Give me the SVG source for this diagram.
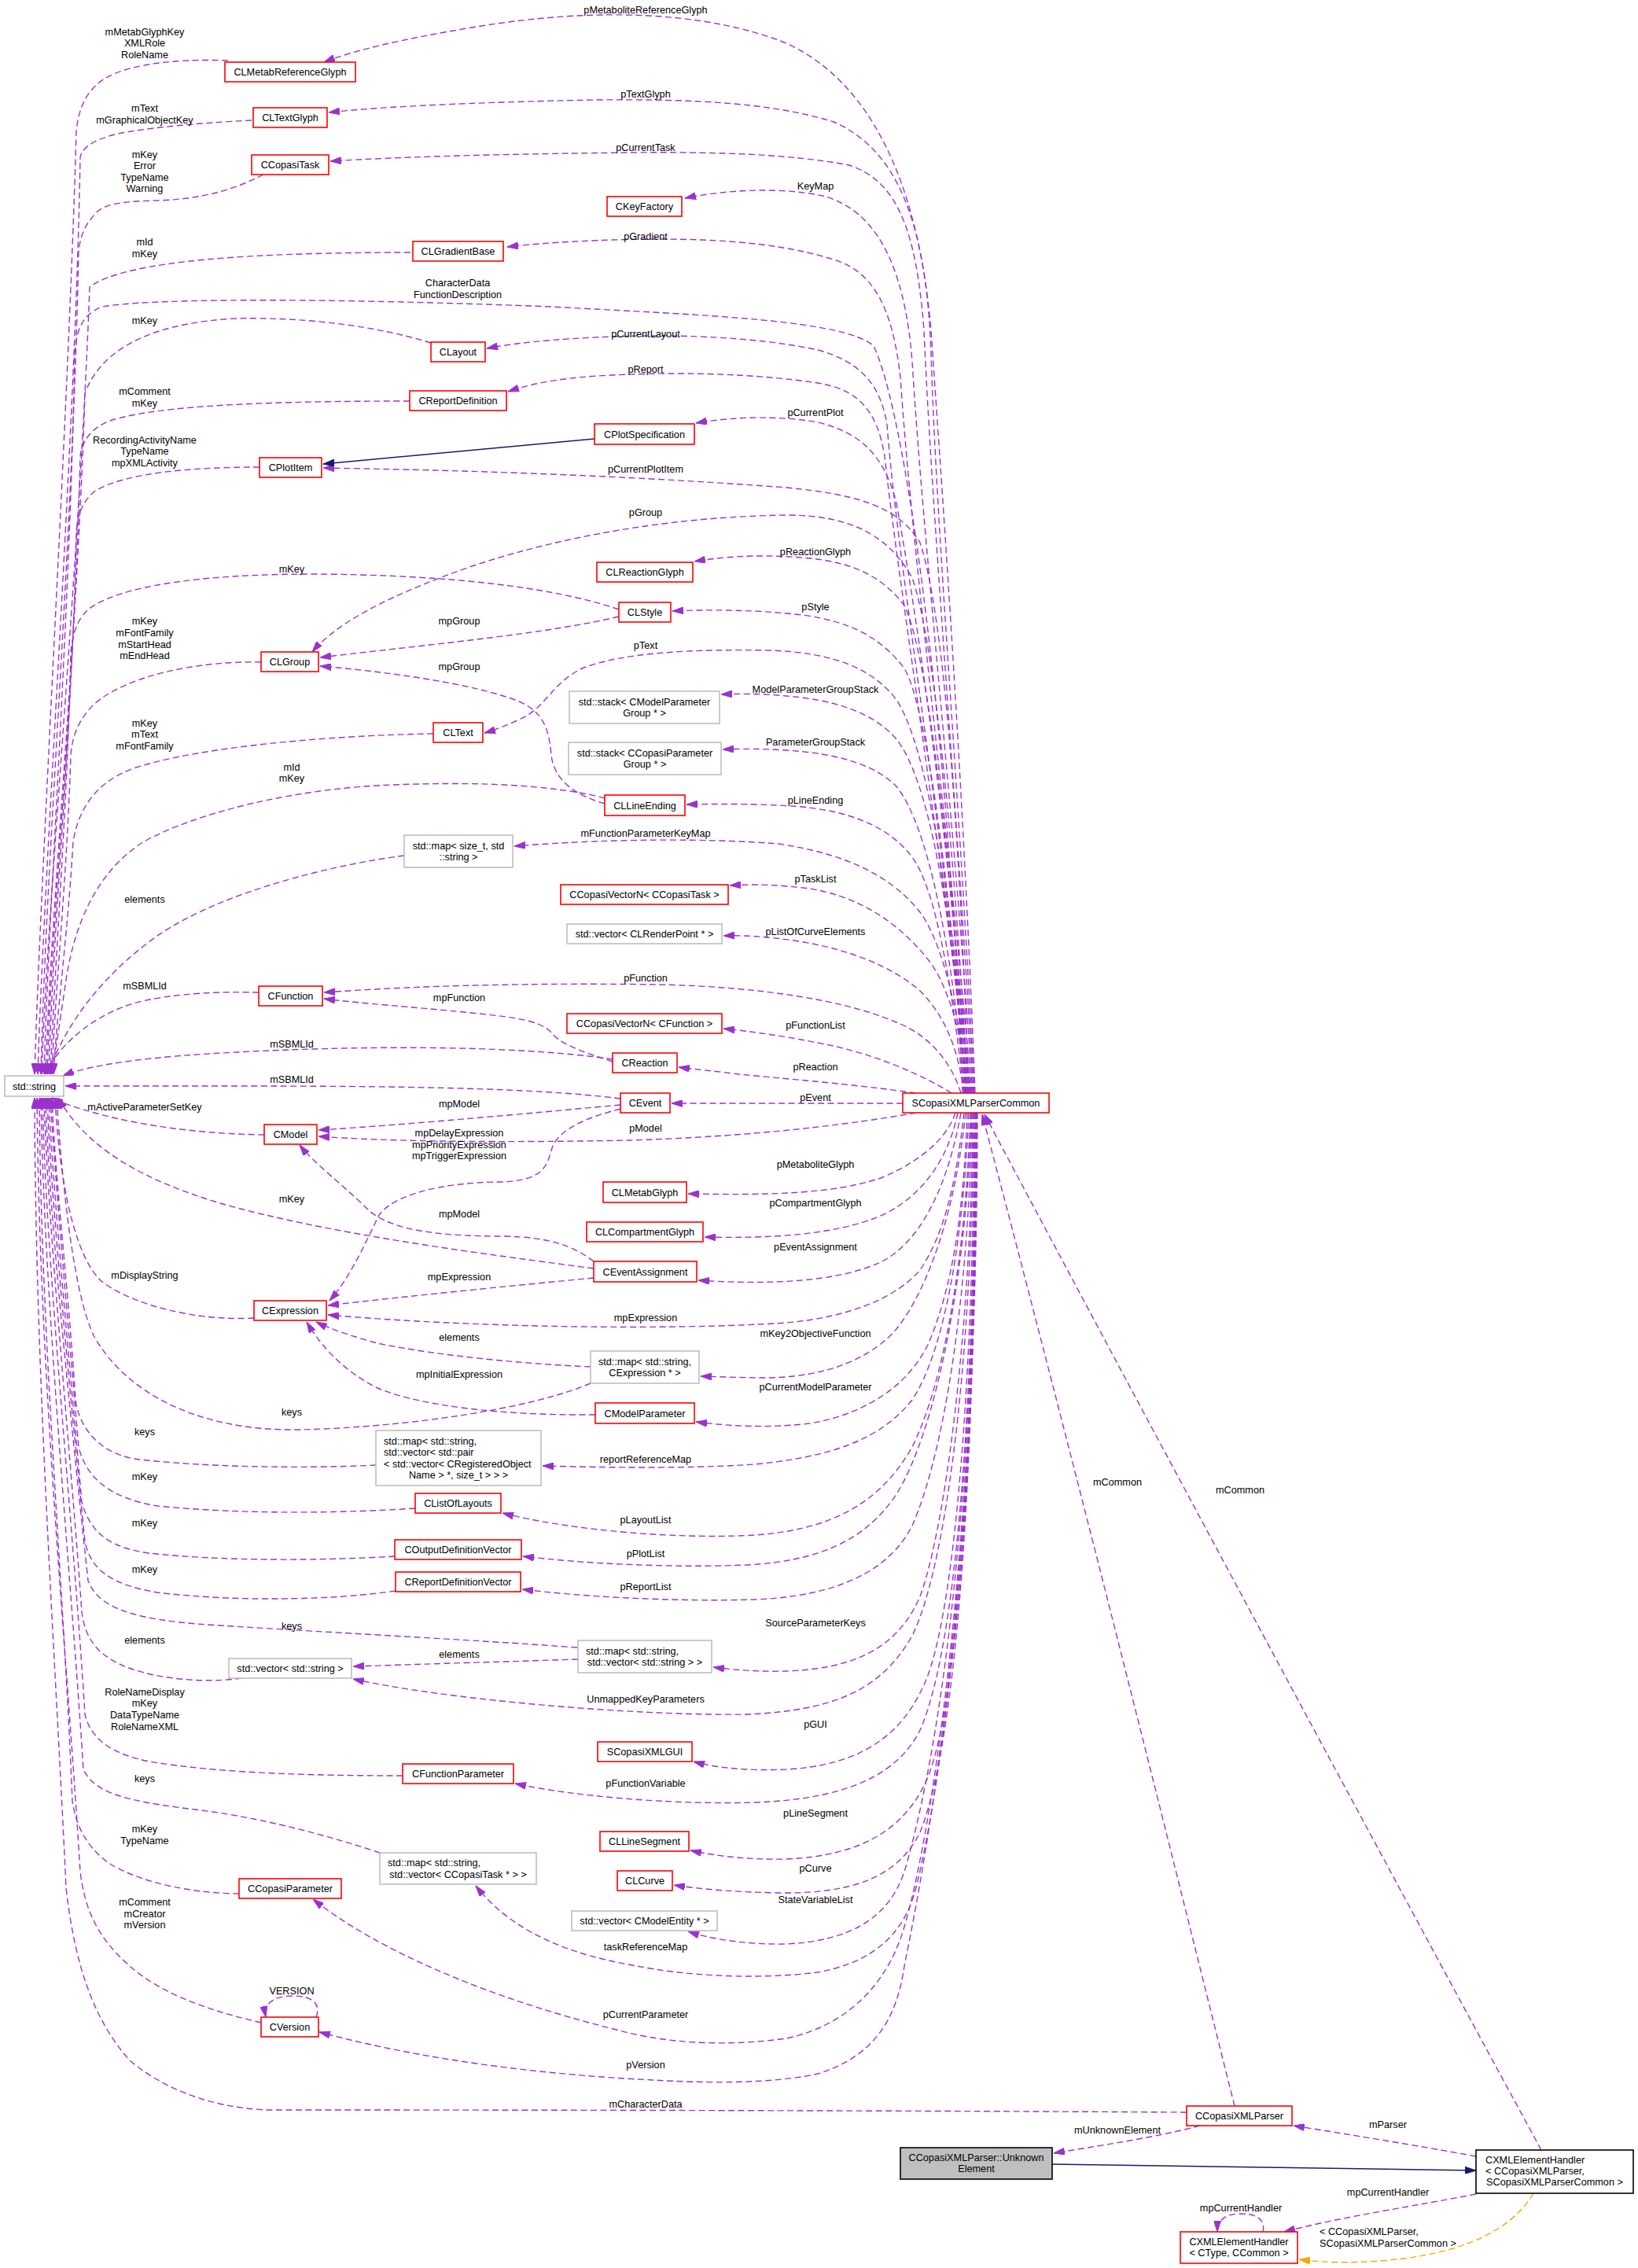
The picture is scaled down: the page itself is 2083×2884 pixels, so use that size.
<svg xmlns="http://www.w3.org/2000/svg" width="2083" height="2884" viewBox="0 0 2083 2884">
  <style>
    text { font-family: "Liberation Sans", Arial, sans-serif; font-size: 12.7px; fill: #000; }
    .c { text-anchor: middle; }
    .s { text-anchor: start; }
    .n rect { fill: #fff; stroke: #ff0000; stroke-width: 1.6; }
    .g rect { fill: #fff; stroke: #bfbfbf; stroke-width: 1.6; }
    .k rect { fill: #fff; stroke: #000; stroke-width: 1.6; }
    .f rect { fill: #bfbfbf; stroke: #000; stroke-width: 1.6; }
    .e { fill: none; stroke: #9a32cd; stroke-width: 1.4; stroke-dasharray: 8 4.5; marker-end: url(#ap); }
    .i { fill: none; stroke: #191970; stroke-width: 1.5; marker-end: url(#ab); }
    .t { fill: none; stroke: #ffa500; stroke-width: 1.4; stroke-dasharray: 8 4.5; marker-end: url(#ao); }
  </style>
  <defs>
    <marker id="ap" viewBox="0 0 14 9" refX="14" refY="4.5" markerWidth="14" markerHeight="9" markerUnits="userSpaceOnUse" orient="auto">
      <path d="M0,0 L14,4.5 L0,9 z" fill="#9a32cd" stroke="#9a32cd" stroke-width="1"/>
    </marker>
    <marker id="ab" viewBox="0 0 14 9" refX="14" refY="4.5" markerWidth="14" markerHeight="9" markerUnits="userSpaceOnUse" orient="auto">
      <path d="M0,0 L14,4.5 L0,9 z" fill="#191970" stroke="#191970" stroke-width="1"/>
    </marker>
    <marker id="ao" viewBox="0 0 14 9" refX="14" refY="4.5" markerWidth="14" markerHeight="9" markerUnits="userSpaceOnUse" orient="auto">
      <path d="M0,0 L14,4.5 L0,9 z" fill="#ffa500" stroke="#ffa500" stroke-width="1"/>
    </marker>
  </defs>
  <rect width="2083" height="2884" fill="#fff"/>

  <g id="edges">
    <!-- members of std::string type, upper classes -->
    <path class="e" d="M290,77 C240,75 170,78 133,100 C112,113 100,135 97,167 C88,500 52,1100 44,1366"/>
    <path class="e" d="M320,153 C280,155 200,160 150,170 C125,176 105,185 102,200 C96,550 56,1100 48,1366"/>
    <path class="e" d="M335,222 C300,240 260,253 200,255 C160,256 135,258 123,270 C108,285 102,300 100,320 C92,700 58,1100 52,1366"/>
    <path class="e" d="M522,321 C330,321 160,330 114,365 C102,700 60,1150 53,1366"/>
    <path class="e" d="M1224,1390 C1205,900 1150,520 1111,440 C1075,407 900,401 700,390 C450,380 200,378 130,390 C104,400 97,420 95,450 C88,800 62,1150 56,1366"/>
    <path class="e" d="M548,436 C480,415 390,403 300,405 C200,410 130,440 108,500 C98,820 65,1150 58,1366"/>
    <path class="e" d="M521,510 C350,510 200,515 140,535 C115,545 105,560 102,580 C95,880 66,1160 60,1366"/>
    <path class="e" d="M330,594 C250,594 160,600 120,625 C102,640 98,660 97,680 C92,920 68,1170 62,1366"/>
    <path class="e" d="M787,775 C700,745 560,731 400,730 C250,730 150,746 112,775 C96,790 92,810 90,830 C86,1020 70,1220 64,1366"/>
    <path class="e" d="M332,842 C250,840 160,860 120,895 C100,915 92,935 90,960 C85,1120 70,1260 66,1366"/>
    <path class="e" d="M551,933 C420,935 250,950 170,977 C120,995 100,1030 93,1070 C86,1190 72,1290 68,1366"/>
    <path class="e" d="M769,1015 C700,997 600,994 500,998 C380,1002 250,1032 180,1072 C120,1112 92,1180 82,1260 C76,1300 70,1340 66,1366"/>
    <path class="e" d="M514,1088 C420,1100 280,1135 200,1190 C130,1240 85,1300 60,1366"/>
    <path class="e" d="M329,1262 C270,1260 190,1265 150,1283 C110,1300 75,1330 57,1366"/>
    <path class="e" d="M779,1347 C650,1328 450,1330 300,1338 C200,1343 120,1352 80,1368"/>
    <path class="e" d="M789,1397 C680,1383 500,1381 300,1381 L83,1381"/>
    <!-- members of std::string type, lower classes -->
    <path class="e" d="M336,1443 C260,1442 180,1432 120,1415 C95,1408 78,1402 66,1396"/>
    <path class="e" d="M755,1613 C620,1595 420,1570 280,1530 C180,1500 110,1460 74,1396"/>
    <path class="e" d="M323,1676 C250,1680 170,1660 130,1630 C95,1600 75,1500 70,1396"/>
    <path class="e" d="M751,1759 C680,1790 520,1815 380,1818 C250,1820 160,1770 120,1700 C95,1650 80,1520 72,1396"/>
    <path class="e" d="M478,1863 C380,1868 250,1865 170,1855 C120,1845 100,1810 96,1780 C88,1650 70,1500 66,1396"/>
    <path class="e" d="M528,1918 C420,1925 300,1925 200,1915 C140,1905 110,1880 100,1840 C88,1700 70,1500 64,1396"/>
    <path class="e" d="M502,1979 C400,1985 280,1985 190,1975 C140,1968 115,1950 104,1910 C90,1750 66,1500 62,1396"/>
    <path class="e" d="M503,2023 C420,2035 300,2037 200,2025 C140,2015 115,1995 108,1960 C92,1800 64,1520 60,1396"/>
    <path class="e" d="M734,2095 C600,2085 400,2075 250,2065 C170,2058 125,2045 112,2010 C95,1850 62,1550 58,1396"/>
    <path class="e" d="M307,2134 C260,2141 190,2135 150,2115 C120,2100 108,2080 104,2050 C90,1850 60,1550 56,1396"/>
    <path class="e" d="M512,2258 C400,2258 280,2255 190,2240 C140,2230 115,2210 108,2180 C94,1950 58,1600 54,1396"/>
    <path class="e" d="M483,2356 C420,2335 330,2310 240,2300 C160,2290 120,2280 106,2250 C90,2000 56,1650 52,1396"/>
    <path class="e" d="M304,2408 C250,2408 180,2395 140,2370 C110,2350 96,2320 92,2290 C80,2000 52,1700 50,1396"/>
    <path class="e" d="M332,2572 C280,2560 210,2540 165,2500 C125,2465 108,2430 102,2380 C85,2100 50,1750 47,1396"/>
    <path class="e" d="M1509,2686 C1200,2684 700,2683 340,2683 C260,2680 200,2650 165,2620 C120,2570 95,2500 84,2400 C70,2100 45,1750 44,1396"/>

    <!-- SCopasiXMLParserCommon members, upper half -->
    <path class="e" d="M1240,1390 C1225,1000 1200,650 1186,450 C1175,260 1120,110 1000,55 C900,15 760,8 600,35 C510,50 450,64 412,79"/>
    <path class="e" d="M1239,1390 C1220,1000 1192,700 1184,450 C1178,280 1140,190 1060,155 C980,130 880,126 760,127 C600,130 480,136 418,143"/>
    <path class="e" d="M1238,1390 C1215,1000 1185,650 1175,420 C1165,290 1140,230 1080,210 C1000,195 900,193 800,194 C620,196 500,200 420,205"/>
    <path class="e" d="M1237,1390 C1210,1000 1175,700 1160,460 C1150,330 1110,268 1050,250 C1010,240 940,238 871,252"/>
    <path class="e" d="M1236,1390 C1200,1000 1160,700 1145,480 C1135,390 1110,345 1060,330 C980,305 880,302 780,305 C720,307 680,310 645,314"/>
    <path class="e" d="M1235,1390 C1190,1000 1140,700 1128,540 C1120,490 1095,460 1040,445 C960,428 860,425 780,428 C700,431 650,437 619,443"/>
    <path class="e" d="M1234,1390 C1185,1000 1140,720 1125,580 C1115,520 1090,495 1040,487 C960,475 860,472 760,478 C700,482 670,490 646,498"/>
    <path class="e" d="M1233,1390 C1200,1000 1160,750 1140,640 C1125,580 1095,550 1040,537 C990,528 930,530 885,538"/>
    <path class="e" d="M1232,1390 C1220,1050 1200,780 1170,690 C1140,640 1080,628 1000,620 C800,605 600,598 411,595"/>
    <path class="e" d="M1231,1390 C1215,1100 1190,820 1160,735 C1130,680 1080,655 1000,655 C860,657 720,680 600,720 C500,755 430,790 397,829"/>
    <path class="e" d="M1230,1390 C1210,1100 1180,830 1150,770 C1120,730 1080,715 1030,710 C980,705 930,706 883,714"/>
    <path class="e" d="M1229,1390 C1210,1150 1180,900 1150,850 C1120,810 1080,790 1020,782 C960,775 900,775 855,777"/>
    <path class="e" d="M1228,1390 C1210,1150 1180,950 1140,890 C1110,850 1060,830 980,827 C880,825 790,830 740,850 C700,870 695,900 660,915 C645,922 630,928 616,932"/>
    <path class="e" d="M1228,1390 C1210,1150 1180,990 1140,940 C1110,905 1060,890 1000,885 C970,882 940,882 917,883"/>
    <path class="e" d="M1227,1390 C1210,1200 1180,1050 1140,1000 C1110,970 1060,958 1000,954 C970,952 945,952 919,953"/>
    <path class="e" d="M1226,1390 C1210,1250 1190,1130 1160,1090 C1130,1050 1080,1032 1020,1026 C970,1022 920,1022 873,1023"/>
    <path class="e" d="M1230,1390 C1222,1300 1200,1200 1170,1160 C1130,1110 1070,1085 990,1073 C900,1066 780,1066 654,1076"/>
    <path class="e" d="M1232,1390 C1225,1320 1205,1250 1180,1220 C1140,1170 1090,1140 1030,1130 C990,1125 960,1124 928,1126"/>
    <path class="e" d="M1226,1390 C1218,1330 1200,1290 1170,1260 C1130,1225 1070,1205 1010,1196 C975,1191 945,1189 920,1190"/>
    <path class="e" d="M1222,1390 C1210,1350 1180,1315 1140,1300 C1070,1270 960,1255 840,1252 C700,1250 550,1252 412,1262"/>
    <path class="e" d="M1210,1390 C1170,1365 1110,1340 1050,1328 C1000,1318 960,1312 920,1308"/>
    <path class="e" d="M1165,1390 C1080,1378 1000,1372 940,1366 C910,1362 885,1360 863,1357"/>
    <path class="e" d="M1148,1403 L854,1403"/>
    <path class="e" d="M1165,1415 C1080,1430 960,1445 800,1450 C650,1453 500,1452 405,1445"/>

    <!-- SCopasiXMLParserCommon members, lower half -->
    <path class="e" d="M1215,1415 C1205,1445 1175,1475 1120,1498 C1060,1518 980,1520 875,1518"/>
    <path class="e" d="M1218,1415 C1205,1480 1165,1530 1110,1550 C1055,1570 980,1575 896,1573"/>
    <path class="e" d="M1222,1415 C1205,1510 1170,1580 1120,1605 C1065,1630 980,1634 888,1628"/>
    <path class="e" d="M1226,1415 C1215,1510 1200,1570 1170,1615 C1140,1650 1080,1675 1000,1682 C850,1692 600,1688 417,1672"/>
    <path class="e" d="M1228,1415 C1215,1540 1180,1640 1140,1690 C1100,1735 1040,1750 980,1752 C950,1752 920,1751 891,1750"/>
    <path class="e" d="M1230,1415 C1225,1550 1210,1640 1180,1710 C1150,1770 1090,1800 1030,1810 C980,1816 930,1814 885,1808"/>
    <path class="e" d="M1232,1415 C1225,1580 1200,1720 1160,1780 C1120,1830 1060,1852 960,1862 C870,1868 770,1866 690,1864"/>
    <path class="e" d="M1234,1415 C1228,1600 1200,1760 1160,1840 C1120,1910 1060,1945 960,1952 C860,1958 720,1945 639,1924"/>
    <path class="e" d="M1235,1415 C1230,1620 1190,1820 1140,1900 C1100,1960 1040,1985 950,1990 C850,1994 740,1988 665,1979"/>
    <path class="e" d="M1236,1415 C1232,1650 1200,1850 1160,1940 C1130,2000 1060,2030 960,2034 C850,2037 740,2030 664,2021"/>
    <path class="e" d="M1237,1415 C1235,1700 1200,1950 1170,2030 C1140,2100 1080,2122 1000,2125 C960,2126 930,2123 907,2120"/>
    <path class="e" d="M1238,1415 C1236,1750 1200,2000 1160,2080 C1120,2150 1060,2175 950,2180 C800,2182 560,2160 449,2135"/>
    <path class="e" d="M1239,1415 C1237,1800 1210,2050 1180,2130 C1150,2210 1090,2245 1000,2250 C950,2252 910,2248 882,2240"/>
    <path class="e" d="M1240,1415 C1238,1850 1210,2110 1170,2200 C1140,2260 1070,2288 960,2292 C850,2295 730,2284 655,2268"/>
    <path class="e" d="M1240,1415 C1239,1900 1215,2170 1180,2260 C1150,2330 1090,2360 1000,2364 C950,2365 910,2360 878,2353"/>
    <path class="e" d="M1241,1415 C1240,1950 1210,2230 1170,2330 C1140,2390 1080,2408 990,2407 C940,2406 895,2403 857,2397"/>
    <path class="e" d="M1241,1415 C1240,2000 1180,2280 1150,2380 C1130,2440 1080,2468 1000,2472 C950,2473 905,2466 875,2456"/>
    <path class="e" d="M1242,1415 C1241,2000 1190,2300 1165,2400 C1150,2460 1110,2495 1040,2508 C960,2518 870,2512 810,2500 C720,2485 650,2455 605,2398"/>
    <path class="e" d="M1242,1415 C1241,2000 1180,2350 1150,2450 C1130,2520 1080,2575 1000,2592 C930,2602 850,2600 780,2580 C620,2540 480,2480 398,2415"/>
    <path class="e" d="M1243,1415 C1242,2050 1170,2400 1150,2500 C1140,2570 1110,2615 1040,2637 C980,2650 900,2649 830,2645 C690,2638 540,2620 406,2584"/>

    <!-- links between the other classes -->
    <path class="i" d="M756,558 L411,590"/>
    <path class="e" d="M787,784 C700,805 560,818 407,836"/>
    <path class="e" d="M769,1022 C735,1012 705,995 701,960 C698,925 690,905 660,892 C600,868 480,853 407,847"/>
    <path class="e" d="M779,1350 C750,1340 715,1330 703,1315 C690,1300 670,1295 600,1288 C520,1280 460,1276 412,1270"/>
    <path class="e" d="M789,1405 C680,1415 520,1430 405,1437"/>
    <path class="e" d="M789,1410 C750,1420 710,1435 702,1460 C695,1485 690,1500 640,1503 C560,1503 500,1520 482,1545 C465,1580 445,1625 419,1654"/>
    <path class="e" d="M755,1604 C730,1585 700,1573 640,1572 C560,1572 500,1565 470,1540 C440,1510 400,1480 381,1456"/>
    <path class="e" d="M755,1625 C650,1635 520,1648 417,1660"/>
    <path class="e" d="M751,1738 C680,1735 560,1725 480,1708 C450,1700 420,1690 402,1681"/>
    <path class="e" d="M757,1799 C650,1800 540,1790 480,1765 C440,1745 410,1715 390,1681"/>
    <path class="e" d="M735,2110 C640,2113 540,2116 449,2119"/>
    <path class="e" d="M402,2565 C408,2550 400,2538 372,2538 C345,2538 335,2550 338,2565"/>

    <!-- parser and element handlers -->
    <path class="e" d="M1570,2678 C1520,2480 1400,1990 1249,1417"/>
    <path class="e" d="M1960,2734 C1800,2440 1450,1790 1252,1417"/>
    <path class="e" d="M1526,2703 C1470,2718 1400,2728 1340,2738"/>
    <path class="e" d="M1877,2742 C1800,2728 1720,2715 1645,2703"/>
    <path class="i" d="M1338,2752 L1877,2760"/>
    <path class="e" d="M1877,2790 C1800,2805 1700,2820 1633,2838"/>
    <path class="e" d="M1606,2838 C1610,2820 1595,2815 1577,2815 C1560,2815 1548,2822 1548,2838"/>
    <path class="t" d="M1950,2789 C1920,2840 1850,2870 1740,2876 C1700,2878 1675,2876 1652,2873"/>
  </g>

  <g id="edge-labels">
    <text class="c" x="821" y="16.5">pMetaboliteReferenceGlyph</text>
    <text class="c" x="184" y="44.5">mMetabGlyphKey</text>
    <text class="c" x="184" y="58.5">XMLRole</text>
    <text class="c" x="184" y="73.5">RoleName</text>
    <text class="c" x="821" y="123.5">pTextGlyph</text>
    <text class="c" x="184" y="141.5">mText</text>
    <text class="c" x="184" y="156.5">mGraphicalObjectKey</text>
    <text class="c" x="821" y="191.5">pCurrentTask</text>
    <text class="c" x="184" y="200.5">mKey</text>
    <text class="c" x="184" y="214.5">Error</text>
    <text class="c" x="184" y="229.5">TypeName</text>
    <text class="c" x="184" y="243.5">Warning</text>
    <text class="c" x="1037" y="240.5">KeyMap</text>
    <text class="c" x="821" y="304.5">pGradient</text>
    <text class="c" x="184" y="311.5">mId</text>
    <text class="c" x="184" y="326.5">mKey</text>
    <text class="c" x="582" y="363.5">CharacterData</text>
    <text class="c" x="582" y="378.5">FunctionDescription</text>
    <text class="c" x="184" y="411.5">mKey</text>
    <text class="c" x="821" y="428.5">pCurrentLayout</text>
    <text class="c" x="821" y="473.5">pReport</text>
    <text class="c" x="184" y="501.5">mComment</text>
    <text class="c" x="184" y="516.5">mKey</text>
    <text class="c" x="1037" y="528.5">pCurrentPlot</text>
    <text class="c" x="184" y="563.5">RecordingActivityName</text>
    <text class="c" x="184" y="577.5">TypeName</text>
    <text class="c" x="184" y="592.5">mpXMLActivity</text>
    <text class="c" x="821" y="600.5">pCurrentPlotItem</text>
    <text class="c" x="821" y="655.5">pGroup</text>
    <text class="c" x="1037" y="705.5">pReactionGlyph</text>
    <text class="c" x="371" y="727.5">mKey</text>
    <text class="c" x="1037" y="775.5">pStyle</text>
    <text class="c" x="584" y="793.5">mpGroup</text>
    <text class="c" x="184" y="793.5">mKey</text>
    <text class="c" x="184" y="808.5">mFontFamily</text>
    <text class="c" x="184" y="823.5">mStartHead</text>
    <text class="c" x="184" y="837.5">mEndHead</text>
    <text class="c" x="821" y="824.5">pText</text>
    <text class="c" x="584" y="851.5">mpGroup</text>
    <text class="c" x="1037" y="880.5">ModelParameterGroupStack</text>
    <text class="c" x="184" y="923.5">mKey</text>
    <text class="c" x="184" y="937.5">mText</text>
    <text class="c" x="184" y="952.5">mFontFamily</text>
    <text class="c" x="1037" y="947.5">ParameterGroupStack</text>
    <text class="c" x="371" y="979.5">mId</text>
    <text class="c" x="371" y="993.5">mKey</text>
    <text class="c" x="1037" y="1021.5">pLineEnding</text>
    <text class="c" x="821" y="1063.5">mFunctionParameterKeyMap</text>
    <text class="c" x="1037" y="1121.5">pTaskList</text>
    <text class="c" x="184" y="1147.5">elements</text>
    <text class="c" x="1037" y="1188.5">pListOfCurveElements</text>
    <text class="c" x="821" y="1247.5">pFunction</text>
    <text class="c" x="184" y="1257.5">mSBMLId</text>
    <text class="c" x="584" y="1272.5">mpFunction</text>
    <text class="c" x="1037" y="1307.5">pFunctionList</text>
    <text class="c" x="371" y="1331.5">mSBMLId</text>
    <text class="c" x="1037" y="1360.5">pReaction</text>
    <text class="c" x="371" y="1376.5">mSBMLId</text>
    <text class="c" x="1037" y="1399.5">pEvent</text>
    <text class="c" x="584" y="1407.5">mpModel</text>
    <text class="c" x="184" y="1411.5">mActiveParameterSetKey</text>
    <text class="c" x="821" y="1438.5">pModel</text>
    <text class="c" x="584" y="1444.5">mpDelayExpression</text>
    <text class="c" x="584" y="1459.5">mpPriorityExpression</text>
    <text class="c" x="584" y="1473.5">mpTriggerExpression</text>
    <text class="c" x="1037" y="1484.5">pMetaboliteGlyph</text>
    <text class="c" x="371" y="1528.5">mKey</text>
    <text class="c" x="1037" y="1533.5">pCompartmentGlyph</text>
    <text class="c" x="584" y="1547.5">mpModel</text>
    <text class="c" x="1037" y="1589.5">pEventAssignment</text>
    <text class="c" x="184" y="1625.5">mDisplayString</text>
    <text class="c" x="584" y="1627.5">mpExpression</text>
    <text class="c" x="821" y="1679.5">mpExpression</text>
    <text class="c" x="1037" y="1699.5">mKey2ObjectiveFunction</text>
    <text class="c" x="584" y="1704.5">elements</text>
    <text class="c" x="584" y="1751.5">mpInitialExpression</text>
    <text class="c" x="1037" y="1767.5">pCurrentModelParameter</text>
    <text class="c" x="371" y="1799.5">keys</text>
    <text class="c" x="184" y="1824.5">keys</text>
    <text class="c" x="821" y="1859.5">reportReferenceMap</text>
    <text class="c" x="184" y="1881.5">mKey</text>
    <text class="c" x="1421" y="1888.5">mCommon</text>
    <text class="c" x="1577" y="1898.5">mCommon</text>
    <text class="c" x="821" y="1936.5">pLayoutList</text>
    <text class="c" x="184" y="1940.5">mKey</text>
    <text class="c" x="821" y="1979.5">pPlotList</text>
    <text class="c" x="184" y="1999.5">mKey</text>
    <text class="c" x="821" y="2021.5">pReportList</text>
    <text class="c" x="1037" y="2067.5">SourceParameterKeys</text>
    <text class="c" x="371" y="2071.5">keys</text>
    <text class="c" x="184" y="2089.5">elements</text>
    <text class="c" x="584" y="2107.5">elements</text>
    <text class="c" x="184" y="2155.5">RoleNameDisplay</text>
    <text class="c" x="184" y="2169.5">mKey</text>
    <text class="c" x="184" y="2184.5">DataTypeName</text>
    <text class="c" x="184" y="2199.5">RoleNameXML</text>
    <text class="c" x="821" y="2164.5">UnmappedKeyParameters</text>
    <text class="c" x="1037" y="2196.5">pGUI</text>
    <text class="c" x="184" y="2265.5">keys</text>
    <text class="c" x="821" y="2271.5">pFunctionVariable</text>
    <text class="c" x="1037" y="2309.5">pLineSegment</text>
    <text class="c" x="184" y="2329.5">mKey</text>
    <text class="c" x="184" y="2344.5">TypeName</text>
    <text class="c" x="1037" y="2379.5">pCurve</text>
    <text class="c" x="1037" y="2419.5">StateVariableList</text>
    <text class="c" x="184" y="2422.5">mComment</text>
    <text class="c" x="184" y="2437.5">mCreator</text>
    <text class="c" x="184" y="2451.5">mVersion</text>
    <text class="c" x="821" y="2479.5">taskReferenceMap</text>
    <text class="c" x="371" y="2535.5">VERSION</text>
    <text class="c" x="821" y="2565.5">pCurrentParameter</text>
    <text class="c" x="821" y="2629.5">pVersion</text>
    <text class="c" x="821" y="2679.5">mCharacterData</text>
    <text class="c" x="1765" y="2705.5">mParser</text>
    <text class="c" x="1421" y="2712.5">mUnknownElement</text>
    <text class="c" x="1765" y="2791.5">mpCurrentHandler</text>
    <text class="c" x="1578" y="2811.5">mpCurrentHandler</text>
    <text class="s" x="1678" y="2841.5">&lt; CCopasiXMLParser,</text>
    <text class="c" x="1765" y="2856.5">SCopasiXMLParserCommon &gt;</text>
  </g>

  <g id="n-CLMetabReferenceGlyph" class="n"><rect x="286" y="79" width="166" height="25"/><text class="c" x="369" y="96">CLMetabReferenceGlyph</text></g>
  <g id="n-CLTextGlyph" class="n"><rect x="322" y="137" width="94" height="25"/><text class="c" x="369" y="154">CLTextGlyph</text></g>
  <g id="n-CCopasiTask" class="n"><rect x="320" y="197" width="98" height="25"/><text class="c" x="369" y="214">CCopasiTask</text></g>
  <g id="n-CKeyFactory" class="n"><rect x="772" y="250" width="95" height="25"/><text class="c" x="819.5" y="267">CKeyFactory</text></g>
  <g id="n-CLGradientBase" class="n"><rect x="525" y="307" width="115" height="25"/><text class="c" x="582.5" y="324">CLGradientBase</text></g>
  <g id="n-CLayout" class="n"><rect x="548" y="435" width="69" height="25"/><text class="c" x="582.5" y="452">CLayout</text></g>
  <g id="n-CReportDefinition" class="n"><rect x="521" y="497" width="123" height="25"/><text class="c" x="582.5" y="514">CReportDefinition</text></g>
  <g id="n-CPlotSpecification" class="n"><rect x="756" y="539" width="127" height="26"/><text class="c" x="819.5" y="556.5">CPlotSpecification</text></g>
  <g id="n-CPlotItem" class="n"><rect x="330" y="582" width="79" height="25"/><text class="c" x="369.5" y="599">CPlotItem</text></g>
  <g id="n-CLReactionGlyph" class="n"><rect x="759" y="715" width="122" height="25"/><text class="c" x="820" y="732">CLReactionGlyph</text></g>
  <g id="n-CLStyle" class="n"><rect x="787" y="766" width="66" height="25"/><text class="c" x="820" y="783">CLStyle</text></g>
  <g id="n-CLGroup" class="n"><rect x="332" y="829" width="73" height="25"/><text class="c" x="368.5" y="846">CLGroup</text></g>
  <g id="n-stackModelParameterGroup" class="g"><rect x="724" y="879" width="191" height="41"/><text class="c" x="819.5" y="896.5">std::stack&lt; CModelParameter</text><text class="c" x="819.5" y="910.5">Group * &gt;</text></g>
  <g id="n-CLText" class="n"><rect x="551" y="919" width="63" height="25"/><text class="c" x="582.5" y="936">CLText</text></g>
  <g id="n-stackCopasiParameterGroup" class="g"><rect x="723" y="944" width="194" height="41"/><text class="c" x="820" y="961.5">std::stack&lt; CCopasiParameter</text><text class="c" x="820" y="975.5">Group * &gt;</text></g>
  <g id="n-CLLineEnding" class="n"><rect x="769" y="1011" width="102" height="26"/><text class="c" x="820" y="1028.5">CLLineEnding</text></g>
  <g id="n-mapSizeString" class="g"><rect x="514" y="1062" width="138" height="41"/><text class="c" x="583" y="1079.5">std::map&lt; size_t, std</text><text class="c" x="583" y="1093.5">::string &gt;</text></g>
  <g id="n-VectorNCopasiTask" class="n"><rect x="713" y="1125" width="213" height="25"/><text class="c" x="819.5" y="1142">CCopasiVectorN&lt; CCopasiTask &gt;</text></g>
  <g id="n-vectorRenderPoint" class="g"><rect x="721" y="1175" width="197" height="25"/><text class="c" x="819.5" y="1192">std::vector&lt; CLRenderPoint * &gt;</text></g>
  <g id="n-CFunction" class="n"><rect x="329" y="1254" width="81" height="25"/><text class="c" x="369.5" y="1271">CFunction</text></g>
  <g id="n-VectorNFunction" class="n"><rect x="721" y="1289" width="197" height="25"/><text class="c" x="819.5" y="1306">CCopasiVectorN&lt; CFunction &gt;</text></g>
  <g id="n-CReaction" class="n"><rect x="779" y="1339" width="82" height="25"/><text class="c" x="820" y="1356">CReaction</text></g>
  <g id="n-string" class="g"><rect x="6" y="1368" width="75" height="26"/><text class="c" x="43.5" y="1385.5">std::string</text></g>
  <g id="n-CEvent" class="n"><rect x="789" y="1390" width="63" height="25"/><text class="c" x="820.5" y="1407">CEvent</text></g>
  <g id="n-SCopasiXMLParserCommon" class="n"><rect x="1148" y="1390" width="186" height="25"/><text class="c" x="1241" y="1407">SCopasiXMLParserCommon</text></g>
  <g id="n-CModel" class="n"><rect x="336" y="1430" width="67" height="25"/><text class="c" x="369.5" y="1447">CModel</text></g>
  <g id="n-CLMetabGlyph" class="n"><rect x="767" y="1503" width="106" height="26"/><text class="c" x="820" y="1520.5">CLMetabGlyph</text></g>
  <g id="n-CLCompartmentGlyph" class="n"><rect x="746" y="1554" width="148" height="25"/><text class="c" x="820" y="1571">CLCompartmentGlyph</text></g>
  <g id="n-CEventAssignment" class="n"><rect x="755" y="1604" width="131" height="26"/><text class="c" x="820.5" y="1621.5">CEventAssignment</text></g>
  <g id="n-CExpression" class="n"><rect x="323" y="1654" width="92" height="25"/><text class="c" x="369" y="1671">CExpression</text></g>
  <g id="n-mapStringExpression" class="g"><rect x="751" y="1718" width="138" height="41"/><text class="c" x="820" y="1735.5">std::map&lt; std::string,</text><text class="c" x="820" y="1749.5">CExpression * &gt;</text></g>
  <g id="n-CModelParameter" class="n"><rect x="757" y="1784" width="126" height="26"/><text class="c" x="820" y="1801.5">CModelParameter</text></g>
  <g id="n-mapStringRegisteredObjectName" class="g"><rect x="478" y="1819" width="210" height="70"/><text class="s" x="488" y="1836.5">std::map&lt; std::string,</text><text class="s" x="488" y="1850.5">std::vector&lt; std::pair</text><text class="s" x="488" y="1865.5">&lt; std::vector&lt; CRegisteredObject</text><text class="c" x="583" y="1879.5">Name &gt; *, size_t &gt; &gt; &gt;</text></g>
  <g id="n-CListOfLayouts" class="n"><rect x="528" y="1899" width="109" height="25"/><text class="c" x="582.5" y="1916">CListOfLayouts</text></g>
  <g id="n-COutputDefinitionVector" class="n"><rect x="502" y="1958" width="161" height="25"/><text class="c" x="582.5" y="1975">COutputDefinitionVector</text></g>
  <g id="n-CReportDefinitionVector" class="n"><rect x="503" y="1999" width="159" height="25"/><text class="c" x="582.5" y="2016">CReportDefinitionVector</text></g>
  <g id="n-mapStringVectorString" class="g"><rect x="735" y="2086" width="170" height="41"/><text class="s" x="745" y="2103.5">std::map&lt; std::string,</text><text class="c" x="820" y="2117.5">std::vector&lt; std::string &gt; &gt;</text></g>
  <g id="n-vectorString" class="g"><rect x="291" y="2109" width="156" height="25"/><text class="c" x="369" y="2126">std::vector&lt; std::string &gt;</text></g>
  <g id="n-SCopasiXMLGUI" class="n"><rect x="760" y="2215" width="120" height="25"/><text class="c" x="820" y="2232">SCopasiXMLGUI</text></g>
  <g id="n-CFunctionParameter" class="n"><rect x="512" y="2243" width="141" height="25"/><text class="c" x="582.5" y="2260">CFunctionParameter</text></g>
  <g id="n-CLLineSegment" class="n"><rect x="763" y="2329" width="113" height="25"/><text class="c" x="819.5" y="2346">CLLineSegment</text></g>
  <g id="n-mapStringVectorTask" class="g"><rect x="483" y="2356" width="199" height="40"/><text class="s" x="493" y="2372.5">std::map&lt; std::string,</text><text class="c" x="582.5" y="2387.5">std::vector&lt; CCopasiTask * &gt; &gt;</text></g>
  <g id="n-CLCurve" class="n"><rect x="785" y="2379" width="70" height="25"/><text class="c" x="820" y="2396">CLCurve</text></g>
  <g id="n-CCopasiParameter" class="n"><rect x="304" y="2389" width="130" height="25"/><text class="c" x="369" y="2406">CCopasiParameter</text></g>
  <g id="n-vectorModelEntity" class="g"><rect x="727" y="2430" width="185" height="25"/><text class="c" x="819.5" y="2447">std::vector&lt; CModelEntity * &gt;</text></g>
  <g id="n-CVersion" class="n"><rect x="332" y="2565" width="73" height="25"/><text class="c" x="368.5" y="2582">CVersion</text></g>
  <g id="n-CCopasiXMLParser" class="n"><rect x="1509" y="2678" width="134" height="25"/><text class="c" x="1576" y="2695">CCopasiXMLParser</text></g>
  <g id="n-UnknownElement" class="f"><rect x="1145" y="2731" width="193" height="40"/><text class="c" x="1241.5" y="2747.5">CCopasiXMLParser::Unknown</text><text class="c" x="1241.5" y="2761.5">Element</text></g>
  <g id="n-CXMLElementHandlerParser" class="k"><rect x="1877" y="2734" width="200" height="55"/><text class="s" x="1889" y="2750.5">CXMLElementHandler</text><text class="s" x="1889" y="2764.5">&lt; CCopasiXMLParser,</text><text class="c" x="1977" y="2778.5">SCopasiXMLParserCommon &gt;</text></g>
  <g id="n-CXMLElementHandlerTemplate" class="n"><rect x="1501" y="2838" width="149" height="40"/><text class="c" x="1575.5" y="2854.5">CXMLElementHandler</text><text class="c" x="1575.5" y="2868.5">&lt; CType, CCommon &gt;</text></g>
</svg>
